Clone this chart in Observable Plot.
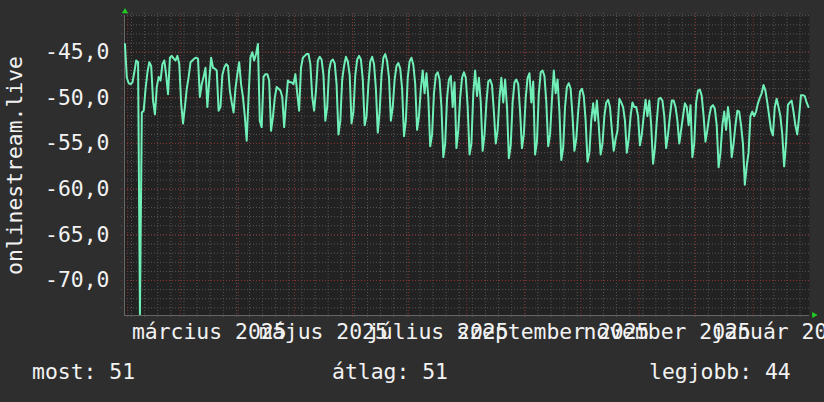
<!DOCTYPE html>
<html><head><meta charset="utf-8">
<script src="https://cdn.jsdelivr.net/npm/d3@7"></script>
<script src="https://cdn.jsdelivr.net/npm/@observablehq/plot@0.6"></script>
<style>
html,body{margin:0;padding:0;background:#2e2e2e;}
#wrap{position:relative;width:824px;height:402px;overflow:hidden;font-family:"DejaVu Sans Mono",monospace;}
#wrap svg{display:block;}
#legend{position:absolute;left:0;top:350px;width:824px;height:52px;}
#legend span{position:absolute;top:11px;font-size:21.4px;line-height:21px;color:#f2f2f2;white-space:pre;}
</style></head><body><div id="wrap"><div id="legend"></div></div>
<script>
// ---- data ----
const yTitle = "onlinestream.live";
const startDay = "2025-01-30";
const domainStart = "2025-01-30T06:00:00Z";
const domainEnd = "2026-01-31T01:00:00Z";
const yDomain = [-73.83, -40.98];
const yTicks = [-70, -65, -60, -55, -50, -45];
const monthLabels = ["március 2025", "május 2025", "július 2025", "szeptember 2025", "november 2025", "január 2026"];
const monthLabelStarts = ["2025-03-01", "2025-05-01", "2025-07-01", "2025-09-01", "2025-11-01", "2026-01-01"];
const legendTexts = ["most: 51", "átlag: 51", "legjobb: 44"];
// daily values from 2025-01-30 to 2026-01-30
const values = [
-44.1,-47.8,-48.4,-48.5,-48.3,-47.2,-45.9,-46.1,-73.7,-51.6,
-51.4,-49.0,-47.2,-46.1,-46.5,-50.3,-51.8,-48.8,-47.7,-48.1,
-46.3,-45.9,-47.5,-49.6,-45.6,-45.4,-45.7,-45.9,-45.4,-46.3,
-50.6,-52.8,-51.0,-49.0,-47.7,-46.1,-45.9,-45.7,-45.6,-45.7,
-49.9,-48.5,-47.7,-46.7,-51.0,-48.1,-45.6,-46.7,-46.8,-47.0,
-51.4,-51.0,-47.5,-46.7,-46.3,-46.5,-49.2,-50.5,-51.6,-49.0,
-47.4,-46.1,-48.5,-49.9,-52.0,-54.7,-49.9,-45.6,-45.0,-45.9,
-45.2,-44.1,-52.5,-53.2,-47.7,-47.4,-47.4,-48.1,-53.6,-52.1,
-50.0,-48.8,-49.0,-49.2,-49.9,-53.2,-50.5,-48.1,-48.3,-48.3,
-48.5,-47.4,-49.5,-51.4,-46.7,-45.6,-45.4,-45.2,-45.2,-46.3,
-49.9,-51.4,-49.2,-45.9,
-45.5,-45.8,-47.5,-52.5,-51.0,
-47.0,-46.0,-45.8,-46.2,-48.5,-54.0,-52.5,
-48.0,-46.5,-45.5,-46.0,-47.5,-52.8,-51.5,
-47.5,-45.8,-45.4,-45.8,-48.0,-53.0,-52.0,
-48.5,-46.0,-45.5,-46.3,-49.0,-53.8,-51.5,
-47.5,-45.6,-45.2,-46.0,-47.8,-52.5,-51.0,
-48.0,-46.5,-46.2,-46.8,-49.0,-54.2,-52.5,
-47.8,-46.0,-45.6,-46.4,-48.5,-53.5,-52.0,
-49.0,-47.0,-49.5,-47.3,-50.0,-55.3,-54.0,
-49.5,-47.5,-47.2,-48.0,-51.0,-56.5,-55.0,
-50.0,-48.0,-47.6,-51.0,-48.3,-55.5,-53.5,
-50.0,-47.8,-47.2,-47.8,-51.0,-56.2,-55.0,
-49.5,-47.0,-49.8,-47.8,-50.5,-55.8,-54.0,
-50.5,-48.2,-48.0,-48.6,-51.5,-55.0,-53.5,
-50.0,-47.8,-50.5,-48.0,-51.0,-56.6,-55.2,
-50.5,-48.3,-48.0,-48.5,-51.5,-55.5,-54.0,
-50.0,-47.8,-47.3,-50.5,-48.2,-56.2,-54.8,
-49.5,-47.2,-47.0,-47.6,-50.5,-55.3,-54.0,
-50.2,-47.0,-49.5,-48.0,-51.5,-56.8,-55.5,
-51.0,-48.8,-48.4,-49.0,-52.0,-55.8,-54.5,
-51.5,-49.3,-49.0,-49.8,-52.5,-57.0,-56.0,
-52.5,-50.6,-52.5,-50.3,-53.0,-56.2,-55.0,
-52.0,-50.5,-50.2,-51.0,-53.5,-55.8,-54.5,
-53.6,-50.1,-50.5,-51.0,-52.5,-56.0,-54.5,
-52.0,-50.5,-51.0,-51.0,-52.0,-55.2,-54.0,
-52.0,-50.2,-52.0,-50.3,-53.0,-57.2,-55.5,
-52.5,-50.1,-50.0,-50.3,-52.0,-55.5,-54.0,
-52.0,-50.3,-50.3,-51.0,-52.5,-55.0,-53.5,
-52.0,-50.6,-51.0,-53.0,-50.8,-56.5,-55.0,
-50.5,-49.2,-49.1,-49.8,-52.0,-54.8,-53.5,
-52.0,-51.0,-50.8,-51.2,-53.0,-57.6,-56.0,
-53.0,-51.5,-53.5,-51.0,-52.7,-56.5,-55.0,
-53.0,-51.4,-51.5,-53.0,-55.0,-59.5,-57.5,
-56.0,-52.0,-51.5,-52.0,-51.5,-50.6,-50.0,
-49.5,-48.6,-49.2,-50.5,-52.0,-53.5,-54.1,
-51.0,-50.1,-51.0,-52.0,-54.0,-57.5,-55.0,
-50.8,-50.5,-50.3,-51.5,-53.0,-54.0,-52.0,
-49.7,-49.7,-49.8,-50.5,-51.0
];

// ---- build ----
const parseDay = d3.utcParse("%Y-%m-%d");
const t0 = parseDay(startDay);
const data = values.map((v, i) => ({date: d3.utcHour.offset(d3.utcDay.offset(t0, i), 12), value: v}));
const xDomain = [new Date(domainStart), new Date(domainEnd)];
const mondays = d3.utcMonday.range(xDomain[0], xDomain[1]);
const months = d3.utcMonth.range(xDomain[0], xDomain[1]);
const minorY = d3.range(Math.ceil(yDomain[0]), Math.floor(yDomain[1]) + 1);
const labelRows = monthLabels.map((text, i) => {
  const s = parseDay(monthLabelStarts[i]);
  const e = d3.utcMonth.offset(s, 1);
  return {date: new Date((+s + +e) / 2), text};
});

const fontFamily = '"DejaVu Sans Mono", monospace';
const fontSize = 21.4;
const textColor = "#f2f2f2";
const minorColor = "#555555";
const majorColor = "#8a3232";

const chart = Plot.plot({
  width: 824, height: 350,
  marginLeft: 124, marginRight: 15, marginTop: 15, marginBottom: 35,
  style: {background: "transparent", color: textColor, fontFamily, fontSize: fontSize + "px", overflow: "visible"},
  x: {type: "utc", domain: xDomain, axis: null},
  y: {domain: yDomain, axis: null},
  marks: [
    Plot.frame({fill: "#222222", stroke: null}),
    Plot.ruleY(minorY, {stroke: minorColor, strokeDasharray: "1,2", insetLeft: -3, insetRight: -2}),
    Plot.ruleX(mondays, {stroke: minorColor, strokeDasharray: "1,2", insetTop: -2, insetBottom: -3}),
    Plot.ruleY(yTicks, {stroke: majorColor, strokeDasharray: "1,2", insetLeft: -3, insetRight: -2}),
    Plot.ruleX(months, {stroke: majorColor, strokeDasharray: "1,2", insetTop: -2, insetBottom: -3}),
    Plot.ruleX([xDomain[0]], {stroke: "#666666"}),
    Plot.ruleY([yDomain[0]], {stroke: "#666666"}),
    Plot.lineY(data, {x: "date", y: "value", stroke: "#70f0b8", strokeWidth: 2}),
    Plot.axisY(yTicks, {label: null, tickSize: 0, tickPadding: 15, tickFormat: d => d.toFixed(1).replace(".", ","), fill: textColor, fontSize, fontFamily}),
    Plot.text(labelRows, {x: "date", text: "text", frameAnchor: "bottom", textAnchor: "middle", dy: 23, lineAnchor: "bottom", fill: textColor, fontSize, fontFamily}),
    Plot.text([yTitle], {text: d => d, frameAnchor: "left", textAnchor: "middle", dx: -103, rotate: -90, lineAnchor: "bottom", fill: textColor, fontSize, fontFamily}),
    Plot.dot([0], {frameAnchor: "top-left", symbol: "triangle", r: 2.3, fill: "#22cc22", dx: 0.5, dy: -4}),
    Plot.dot([0], {frameAnchor: "bottom-right", symbol: "triangle", r: 2.3, fill: "#22cc22", rotate: 90, dx: 4.5, dy: -0.5})
  ]
});
document.getElementById("wrap").insertBefore(chart, document.getElementById("legend"));

const legendLeft = [32, 332, 649];
const legend = document.getElementById("legend");
legendTexts.forEach((t, i) => {
  const s = document.createElement("span");
  s.textContent = t;
  s.style.left = legendLeft[i] + "px";
  legend.appendChild(s);
});
</script>
</body></html>
